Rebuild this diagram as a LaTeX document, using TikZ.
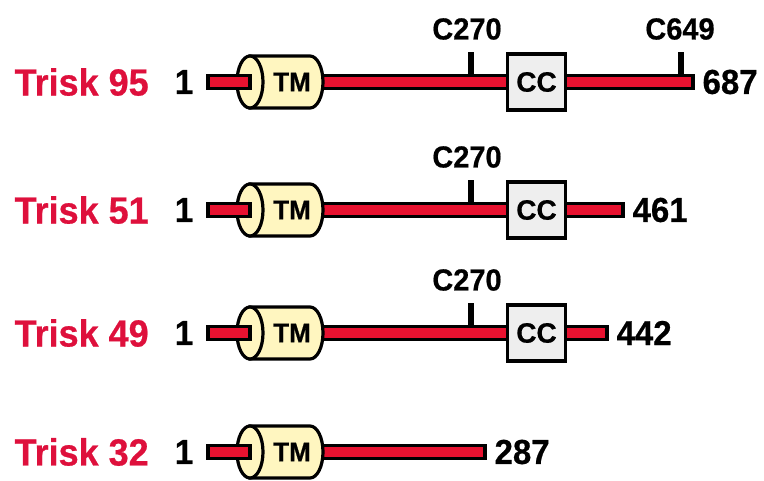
\documentclass[tikz,border=0pt]{standalone}
\usepackage{fontspec}
\setmainfont{Liberation Sans}[BoldFeatures={FakeBold=0.6}]
\definecolor{barred}{RGB}{232,18,48}
\definecolor{labred}{RGB}{222,16,60}
\definecolor{tmfill}{RGB}{255,246,192}
\definecolor{ccfill}{RGB}{238,238,238}
\newcommand{\talltext}[1]{\scalebox{1}[1.05]{#1}}
\begin{document}
\begin{tikzpicture}[x=1pt,y=-1pt,line width=3.2pt,
  barstyle/.style={fill=barred,draw=black},
  tmstyle/.style={fill=tmfill,draw=black},
  ccstyle/.style={fill=ccfill,draw=black,minimum width=58pt,minimum height=56pt,inner sep=0pt,font=\bfseries\fontsize{28}{28}\selectfont},
  namelab/.style={text=labred,font=\bfseries\fontsize{36}{36}\selectfont,anchor=west,inner sep=0pt},
  numlab/.style={font=\bfseries\fontsize{33}{33}\selectfont,inner sep=0pt},
  poslab/.style={font=\bfseries\fontsize{29}{29}\selectfont,inner sep=0pt},
  tmlab/.style={font=\bfseries\fontsize{26}{26}\selectfont,inner sep=0pt},
  tickstyle/.style={line width=5.5pt,draw=black}]
\useasboundingbox (0,0) rectangle (764,480);
% ticks
\foreach \c in {82,210,333}{
  \draw[tickstyle] (471,\c-8) -- (471,\c-30);
  \node[poslab] at (467,\c-53) {\talltext{C270}};
}
\draw[tickstyle] (681,82-8) -- (681,82-30);
\node[poslab] at (680,82-53) {\talltext{C649}};
% rows
\foreach \c/\e/\n/\num [count=\i] in {82/693/95/687,210/623/51/461,333/607/49/442,452/485/32/287}{
  \draw[barstyle] (300,\c-6.5) rectangle (\e,\c+6.5);
  \ifnum\i<4
    \node[ccstyle] (cc\i) at (536.5,\c) {CC};
  \fi
  \draw[tmstyle] (250,\c-26) -- (310,\c-26) arc[start angle=90,end angle=-90,x radius=13pt,y radius=26pt] -- (250,\c+26) -- cycle;
  \draw[tmstyle] (250,\c) ellipse [x radius=13pt,y radius=26pt];
  \draw[barstyle] (208,\c-6.5) rectangle (250,\c+6.5);
  \node[tmlab] (tm\i) at (292,\c) {\talltext{TM}};
  \node[numlab] (one\i) at (184,\c) {\talltext{1}};
  \node[namelab] (name\i) at (13,\c) {\talltext{Trisk \n}};
  \node[numlab,anchor=west] (end\i) at (\e+8,\c) {\talltext{\num}};
}
\end{tikzpicture}
\end{document}
